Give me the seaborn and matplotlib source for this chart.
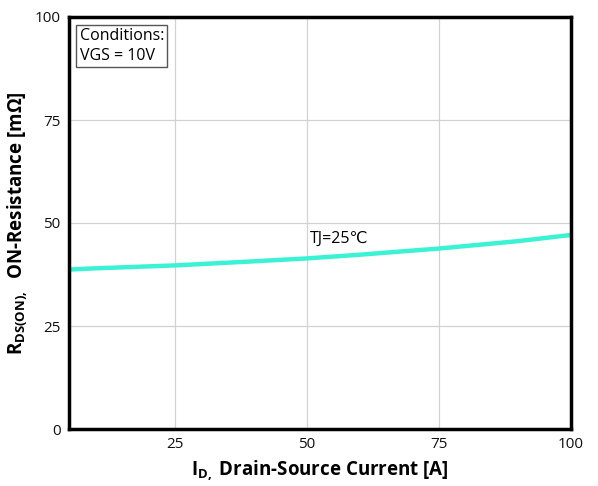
import matplotlib
matplotlib.use("Agg")
import matplotlib.pyplot as plt
import seaborn as sns
import pandas as pd

# Drain current vs on-resistance at TJ = 25 °C
current_a = [5, 10, 25, 40, 50, 60, 75, 90, 100]
rds_on_mohm = [38.7, 39.0, 39.7, 40.7, 41.4, 42.3, 43.8, 45.6, 47.1]
x_ticks = [25, 50, 75, 100]
y_ticks = [0, 25, 50, 75, 100]

sns.set_theme(style="whitegrid")
plt.rcParams["font.family"] = ["Open Sans", "DejaVu Sans"]
plt.rcParams["mathtext.fontset"] = "custom"
plt.rcParams["mathtext.rm"] = "Open Sans:bold"
plt.rcParams["mathtext.bf"] = "Open Sans:bold"
plt.rcParams["text.color"] = "black"
plt.rcParams["axes.labelcolor"] = "black"

df = pd.DataFrame({"I": current_a, "R": rds_on_mohm})

fig = plt.figure(figsize=(5.98, 4.86), dpi=100)
ax = fig.add_axes([69 / 598, 1 - 429 / 486, 502 / 598, 412 / 486])

sns.lineplot(data=df, x="I", y="R", ax=ax, color="#3CF2D4", linewidth=3.2)

ax.set_xlim(5, 100)
ax.set_ylim(0, 100)
ax.set_xticks(x_ticks)
ax.set_yticks(y_ticks)
ax.tick_params(axis="both", labelsize=11, colors="#111111", length=0, pad=6)
ax.grid(True, color="#d2d2d2", linewidth=0.9)
for s in ax.spines.values():
    s.set_color("black")
    s.set_linewidth(2.5)

ax.set_xlabel(r"$\mathrm{I_{D,}}$ Drain-Source Current [A]",
              fontsize=13.5, fontweight="bold", labelpad=5, color="black")
ax.set_ylabel(r"$\mathrm{R_{DS(ON),}}$  ON-Resistance [mΩ]",
              fontsize=13.5, fontweight="bold", labelpad=3, color="black")

ax.text(7.0, 97.3, "Conditions:\nVGS = 10V", fontsize=11.5, va="top", ha="left",
        linespacing=1.3, color="black",
        bbox=dict(boxstyle="square,pad=0.22", facecolor="white", edgecolor="#555555", linewidth=1))
ax.text(50.6, 44.3, "TJ=25℃", fontsize=11.5, ha="left", va="bottom", color="black")

fig.savefig("out.png", dpi=100)
